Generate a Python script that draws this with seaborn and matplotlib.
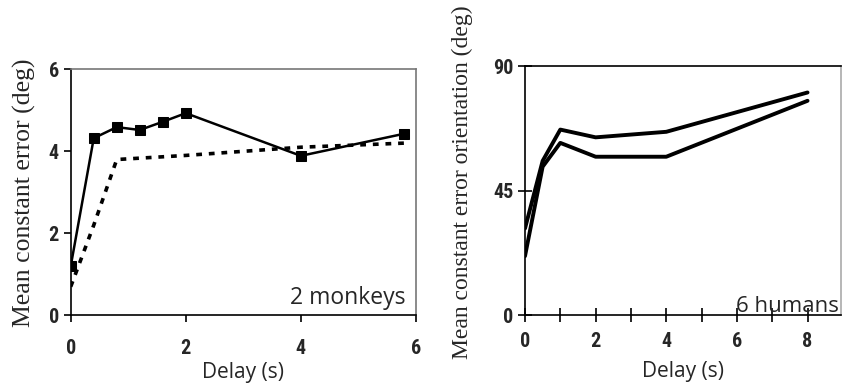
import matplotlib
matplotlib.use("Agg")
import matplotlib.pyplot as plt
import seaborn as sns
import pandas as pd

sns.set_theme(style="white")
plt.rcParams["font.family"] = ["DejaVu Sans"]

# Monkeys: mean constant error (deg) vs delay (s)
monkey_delay_solid = [0.0, 0.4, 0.8, 1.2, 1.6, 2.0, 4.0, 5.8]
monkey_error_solid = [1.2, 4.32, 4.59, 4.52, 4.72, 4.93, 3.89, 4.43]
monkey_delay_dotted = [0.0, 0.4, 0.8, 2.0, 4.0, 5.8]
monkey_error_dotted = [0.7, 2.2, 3.8, 3.9, 4.1, 4.2]

# Humans: mean constant error orientation (deg) vs delay (s)
human_delay = [0, 0.5, 1, 2, 4, 8]
human_error_upper = [31.4, 55.8, 67.1, 64.3, 66.3, 80.5]
human_error_lower = [21.4, 53.7, 62.3, 57.3, 57.3, 77.5]

left_xticks = [0, 2, 4, 6]
left_yticks = [0, 2, 4, 6]
right_xticks = [0, 2, 4, 6, 8]
right_yticks = [0, 45, 90]

df_solid = pd.DataFrame({"delay": monkey_delay_solid, "error": monkey_error_solid})
df_dotted = pd.DataFrame({"delay": monkey_delay_dotted, "error": monkey_error_dotted})
df_up = pd.DataFrame({"delay": human_delay, "error": human_error_upper})
df_lo = pd.DataFrame({"delay": human_delay, "error": human_error_lower})

fig = plt.figure(figsize=(8.42, 3.87), dpi=100)
ax1 = fig.add_axes([0.084, 0.185, 0.410, 0.636])
ax2 = fig.add_axes([0.6235, 0.185, 0.375, 0.644])

tick_family = ["DejaVu Sans Condensed", "Liberation Sans Narrow", "Roboto Condensed", "DejaVu Sans"]
serif = ["Liberation Serif", "DejaVu Serif"]
sans = ["Open Sans", "DejaVu Sans"]

# Left panel
sns.lineplot(data=df_solid, x="delay", y="error", ax=ax1, color="black", lw=1.8,
             marker="s", markersize=7, markeredgecolor="black")
sns.lineplot(data=df_dotted, x="delay", y="error", ax=ax1, color="black", lw=2.6,
             linestyle=(0, (1.6, 1.9)))
ax1.set_xlim(0, 6)
ax1.set_ylim(0, 6)
ax1.set_xticks(left_xticks)
ax1.set_yticks(left_yticks)
ax1.set_xlabel("Delay (s)", family=sans, size=15, labelpad=3)
ax1.set_ylabel("Mean constant error (deg)", family=serif, size=18.5, labelpad=9)
ax1.text(0.97, 0.07, "2 monkeys", transform=ax1.transAxes, ha="right", va="center",
         family=sans, size=16.5)

# Right panel
sns.lineplot(data=df_up, x="delay", y="error", ax=ax2, color="black", lw=2.8)
sns.lineplot(data=df_lo, x="delay", y="error", ax=ax2, color="black", lw=2.8)
ax2.set_xlim(0, 8.94)
ax2.set_ylim(0, 90)
ax2.set_xticks(right_xticks)
ax2.set_xticks(range(0, 9), minor=True)
ax2.set_yticks(right_yticks)
ax2.set_xlabel("Delay (s)", family=sans, size=15, labelpad=7)
ax2.set_ylabel("Mean constant error orientation (deg)", family=serif, size=17)
ax2.yaxis.set_label_coords(-0.165, 0.535)
ax2.text(0.995, 0.012, "6 humans", transform=ax2.transAxes, ha="right", va="baseline",
         family=sans, size=16)

for ax in (ax1, ax2):
    for side in ("left", "right", "top", "bottom"):
        ax.spines[side].set_visible(True)
        ax.spines[side].set_color("black")
        ax.spines[side].set_linewidth(1.2)
    for lab in ax.get_xticklabels() + ax.get_yticklabels():
        lab.set_fontfamily(tick_family)
        lab.set_fontweight("bold")
        lab.set_fontsize(14.5)
    ax.tick_params(axis="both", which="both", color="black", width=1.2, length=5,
                   direction="out", bottom=True, left=True)
    ax.tick_params(axis="x", pad=12)

ax1.spines["top"].set_color("#777777")
ax1.spines["right"].set_color("#777777")
ax2.spines["right"].set_color("#aaaaaa")
ax2.tick_params(axis="x", which="both", direction="inout", length=10, pad=7)
ax2.tick_params(axis="y", direction="inout", length=10)

fig.savefig("out.png", dpi=100)
